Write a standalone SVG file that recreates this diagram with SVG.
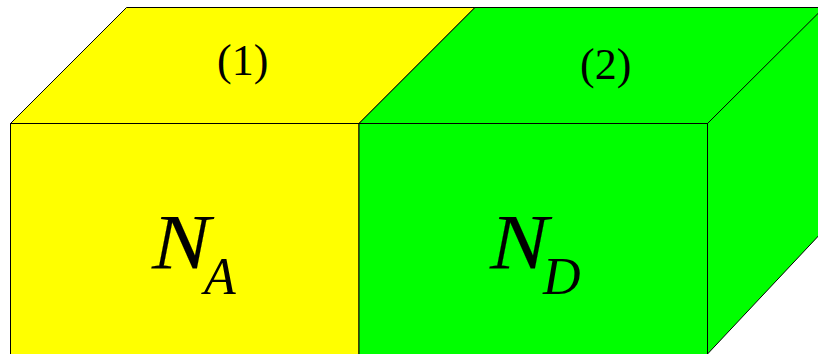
<svg xmlns="http://www.w3.org/2000/svg" width="818" height="354" viewBox="0 0 818 354">
<style>
.f{stroke:#000;stroke-width:1;stroke-linejoin:miter}
.y{fill:#ff0}
.g{fill:#0f0}
text{font-family:"Liberation Serif","Times New Roman",serif;fill:#000}
.n{font-style:italic;font-size:78px;stroke:#000;stroke-width:.15}
.s{font-style:italic;font-size:52px}
.l{font-size:44px}
</style>
<rect width="818" height="354" fill="#fff"/>
<g id="cell-1">
<polygon class="f y" points="10.5,123.5 126.5,7.5 475,7.5 359,123.5"/>
<rect class="f y" x="10.5" y="123.5" width="348.5" height="240"/>
<text class="l" x="217" y="75">(1)</text>
<text class="n" transform="translate(152 268) scale(1.12 1)">N</text>
<text class="s" x="204" y="294">A</text>
</g>
<g id="cell-2">
<polygon class="f g" points="359,123.5 475,7.5 830,7.5 707.5,123.5"/>
<polygon class="f g" points="707.5,123.5 824,7.5 824,230 707.5,354"/>
<rect class="f g" x="359" y="123.5" width="348.5" height="240"/>
<text class="l" x="580" y="79">(2)</text>
<text class="n" transform="translate(490 268) scale(1.12 1)">N</text>
<text class="s" x="543" y="294">D</text>
</g>
</svg>
